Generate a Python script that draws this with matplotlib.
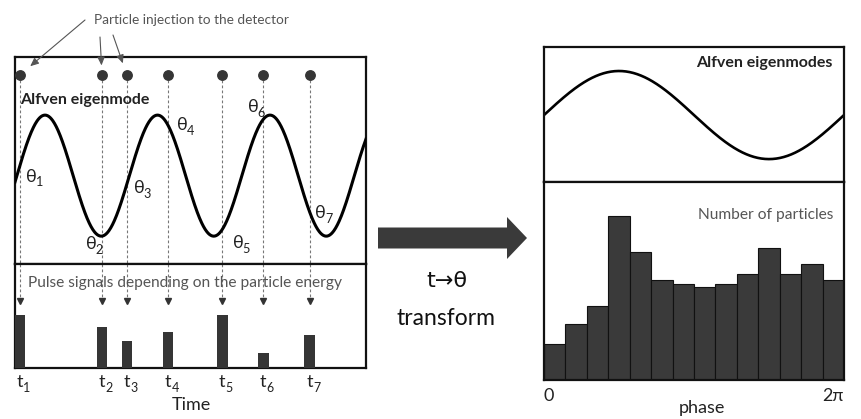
"""Sketch of the t -> theta transform of detector pulses against an Alfven eigenmode."""
import matplotlib
matplotlib.use("Agg")
import matplotlib.pyplot as plt
import numpy as np
from matplotlib.patches import FancyArrow

plt.rcParams["font.family"] = ["Lato", "DejaVu Sans"]

W, H = 861, 419

# ---------------------------------------------------------------------------
# Data
# ---------------------------------------------------------------------------
# particle arrival times (time axis runs 0..10)
t_inject = [0.13, 2.48, 3.19, 4.36, 5.90, 7.07, 8.40]
# pulse heights at each arrival (energy, arbitrary units)
pulse_height = [5.1, 3.95, 2.6, 3.45, 5.1, 1.45, 3.15]
# eigenmode in the time window
mode_period = 3.205
mode_peak_t = 0.855
# theta label offsets in pixels (dx, dy) relative to the point on the wave
theta_offsets = [(12, -10), (-11, -8), (12, -4), (14, 0), (16, -13), (-10, 12), (11, -1)]

# histogram of arrival phases, 14 bins over 0..2pi
phase_counts = [18, 28, 37, 82, 64, 50, 48, 46.5, 48, 53, 66, 53, 58, 50]

DARK = "#353535"
GRAY = "#555555"


def px_axes(fig, x0, y0, x1, y1):
    """Axes placed by pixel box (y measured from the top)."""
    return fig.add_axes([x0 / W, 1 - y1 / H, (x1 - x0) / W, (y1 - y0) / H])


def boxed(ax, lw=1.6):
    ax.set_xticks([])
    ax.set_yticks([])
    for s in ax.spines.values():
        s.set_linewidth(lw)
        s.set_color("#111111")


def sub_text(ax, x, y, base, sub, dx, dy, size, **kw):
    """Draw base text plus a smaller subscript, offset in pixels from (x, y)."""
    ax.annotate(base, (x, y), xytext=(dx, dy), textcoords="offset pixels",
                ha="center", va="center", fontsize=size, annotation_clip=False, **kw)
    ax.annotate(sub, (x, y), xytext=(dx + size * 0.62, dy - size * 0.45),
                textcoords="offset pixels", ha="center", va="center",
                fontsize=size * 0.7, annotation_clip=False, **kw)


fig = plt.figure(figsize=(W / 100, H / 100), dpi=100)

# ---------------------------------------------------------------------------
# Left: eigenmode vs time with injection markers
# ---------------------------------------------------------------------------
ax_wave = px_axes(fig, 15, 57, 366, 264)
boxed(ax_wave)
ax_wave.set_xlim(0, 10)
ax_wave.set_ylim(-1.46, 1.96)

t = np.linspace(0, 10, 800)
wave = np.cos(2 * np.pi * (t - mode_peak_t) / mode_period)
ax_wave.plot(t, wave, color="black", lw=2.2, zorder=3)

dot_y = 1.66
t_arr = np.array(t_inject)
theta_y = np.cos(2 * np.pi * (t_arr - mode_peak_t) / mode_period)
for i, ti in enumerate(t_inject):
    ax_wave.plot([ti, ti], [dot_y, -1.46], color="#777777", lw=0.8,
                 dashes=(2.5, 2), zorder=1)
    dx, dy = theta_offsets[i]
    sub_text(ax_wave, ti, theta_y[i], "θ", str(i + 1), dx, dy, 13, color="#222222")
ax_wave.plot(t_inject, [dot_y] * len(t_inject), "o", color=DARK, ms=6.8,
             clip_on=False, zorder=4)

ax_wave.text(0.14, 1.25, "Alfven eigenmode", fontsize=11.5, fontweight="bold",
             color="#222222", ha="left", va="center")

# injection call-out arrows
arrow_kw = dict(arrowstyle="-|>,head_length=0.5,head_width=0.22", color=GRAY,
                lw=0.8, shrinkA=0)
ax_wave.annotate("", (t_inject[0], dot_y), xytext=(85, H - 20),
                 textcoords="figure pixels",
                 arrowprops=dict(**arrow_kw, shrinkB=10), annotation_clip=False)
ax_wave.annotate("", (t_inject[1], dot_y), xytext=(100, H - 37),
                 textcoords="figure pixels",
                 arrowprops=dict(**arrow_kw, shrinkB=7), annotation_clip=False)
ax_wave.annotate("", (t_inject[2], dot_y), xytext=(113, H - 35),
                 textcoords="figure pixels",
                 arrowprops=dict(**arrow_kw, shrinkB=9), annotation_clip=False)

# ---------------------------------------------------------------------------
# Left bottom: pulse signals
# ---------------------------------------------------------------------------
ax_pulse = px_axes(fig, 15, 264, 366, 368)
boxed(ax_pulse)
ax_pulse.set_xlim(0, 10)
ax_pulse.set_ylim(0, 10)
ax_pulse.bar(t_inject, pulse_height, width=0.31, color=DARK, zorder=3)
for ti in t_inject:
    ax_pulse.plot([ti, ti], [10, 6.6], color="#777777", lw=0.8, dashes=(2.5, 2), zorder=1)
ax_pulse.plot(t_inject, [6.45] * len(t_inject), "v", color="#333333", ms=4.5, zorder=2)
ax_pulse.text(0.36, 8.15, "Pulse signals depending on the particle energy",
              fontsize=11.2, color=GRAY, ha="left", va="center", zorder=4)

for i, ti in enumerate(t_inject):
    ax_pulse.annotate("t", (ti, 0), xytext=(0, -14), textcoords="offset pixels",
                      ha="center", va="center", fontsize=13, color="#222222",
                      annotation_clip=False)
    ax_pulse.annotate(str(i + 1), (ti, 0), xytext=(7, -20), textcoords="offset pixels",
                      ha="center", va="center", fontsize=9, color="#222222",
                      annotation_clip=False)

# ---------------------------------------------------------------------------
# Right: eigenmode over one period, histogram of phases
# ---------------------------------------------------------------------------
ax_mode = px_axes(fig, 544, 47, 844, 182)
boxed(ax_mode)
phase = np.linspace(0, 2 * np.pi, 400)
ax_mode.plot(phase, np.sin(phase), color="black", lw=1.9)
ax_mode.set_xlim(0, 2 * np.pi)
ax_mode.set_ylim(-1.52, 1.545)
ax_mode.text(0.96, 0.88, "Alfven eigenmodes", transform=ax_mode.transAxes,
             fontsize=11.5, fontweight="bold", color="#222222", ha="right", va="center")

ax_hist = px_axes(fig, 544, 182, 844, 380)
boxed(ax_hist)
n_bins = len(phase_counts)
edges = np.linspace(0, 2 * np.pi, n_bins + 1)
ax_hist.bar(edges[:-1], phase_counts, width=edges[1] - edges[0], align="edge",
            color="#3a3a3a", edgecolor="#111111", lw=0.8)
ax_hist.set_xlim(0, 2 * np.pi)
ax_hist.set_ylim(0, 99)
ax_hist.set_xticks([0, 2 * np.pi])
ax_hist.set_xticklabels(["0", "2π"], fontsize=13, color="#222222")
ax_hist.tick_params(axis="x", length=0, pad=6)
ax_hist.get_xticklabels()[-1].set_ha("right")
ax_hist.get_xticklabels()[0].set_ha("left")
ax_hist.text(0.963, 0.833, "Number of particles", transform=ax_hist.transAxes,
             fontsize=11.2, color=GRAY, ha="right", va="center")

# ---------------------------------------------------------------------------
# Free captions and the transform arrow
# ---------------------------------------------------------------------------
ax_top = fig.add_axes([0, 0, 1, 1])
ax_top.set_xlim(0, W)
ax_top.set_ylim(H, 0)
ax_top.axis("off")

ax_top.text(94, 20, "Particle injection to the detector", fontsize=9.8, color=GRAY,
            ha="left", va="center")
ax_top.text(191, 405, "Time", fontsize=13, color="#222222", ha="center", va="center")
ax_top.text(702, 408, "phase", fontsize=13, color="#222222", ha="center", va="center")
ax_top.text(447, 281, "t→θ", fontsize=16, color="#111111", ha="center", va="center",
            family=["DejaVu Sans"])
ax_top.text(446, 318, "transform", fontsize=16.5, color="#111111", ha="center", va="center")
ax_top.add_patch(FancyArrow(378, 238, 149, 0, width=21, head_width=42,
                            head_length=20, length_includes_head=True,
                            color="#3a3a3a", lw=0))

fig.savefig("out.png", dpi=100)
